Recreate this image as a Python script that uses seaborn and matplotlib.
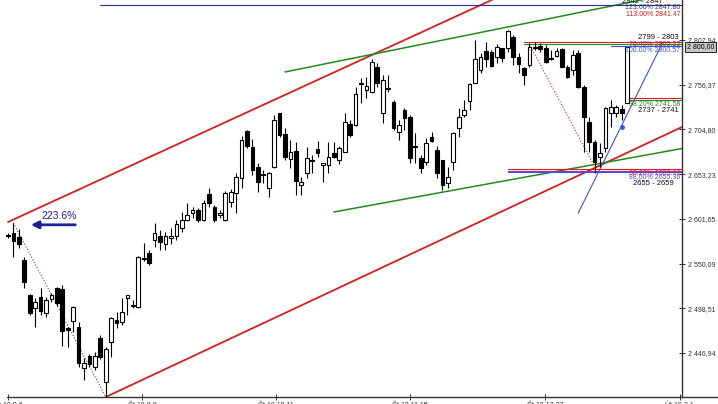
import matplotlib
matplotlib.use("Agg")
import matplotlib.pyplot as plt
import matplotlib.transforms as mtransforms
from matplotlib.lines import Line2D
import numpy as np
import pandas as pd
import seaborn as sns

# daily candles (price values)
opens = [2583.0, 2585.3, 2580.7, 2554.2, 2513.9, 2498.9, 2511.6, 2493.1, 2509.2, 2521.9,
         2520.8, 2475.8, 2483.9, 2476.9, 2429.7, 2443.5, 2430.8, 2464.3, 2413.5, 2459.6,
         2485.0, 2482.7, 2510.4, 2502.3, 2500.0, 2556.5, 2562.3, 2577.3, 2581.9, 2572.7,
         2579.6, 2581.9, 2591.1, 2600.4, 2608.4, 2611.9, 2600.4, 2630.3, 2615.3, 2606.1,
         2600.4, 2621.1, 2631.5, 2648.8, 2703.0, 2684.6, 2661.5, 2653.4, 2637.3, 2661.5,
         2723.8, 2699.5, 2670.7, 2679.9, 2640.7, 2654.6, 2669.6, 2682.2, 2663.8, 2663.8,
         2677.6, 2669.6, 2678.8, 2711.1, 2709.9, 2758.4, 2750.3, 2748.0, 2776.8, 2723.8,
         2752.6, 2736.5, 2701.9, 2727.2, 2719.2, 2685.7, 2671.9, 2667.2, 2696.1, 2681.1,
         2669.6, 2643.0, 2667.2, 2706.5, 2721.5, 2737.6, 2758.4, 2773.4, 2795.3, 2794.1,
         2788.4, 2798.7, 2798.7, 2811.4, 2788.4, 2775.7, 2779.1, 2799.9, 2801.0, 2798.7,
         2787.2, 2789.5, 2797.6, 2776.8, 2773.4, 2793.0, 2753.8, 2713.4, 2690.3, 2673.0,
         2683.4, 2723.8, 2723.8, 2728.4, 2735.3]
highs = [2585.3, 2596.9, 2589.9, 2557.7, 2515.0, 2510.4, 2521.9, 2511.6, 2516.2, 2523.1,
         2525.4, 2476.9, 2501.2, 2482.7, 2441.2, 2445.8, 2448.1, 2467.7, 2453.9, 2488.5,
         2494.2, 2510.4, 2513.9, 2508.1, 2558.8, 2573.8, 2565.8, 2596.9, 2588.8, 2586.5,
         2591.1, 2600.4, 2609.6, 2619.9, 2615.3, 2614.2, 2623.4, 2637.3, 2617.7, 2611.9,
         2633.8, 2636.1, 2654.6, 2697.2, 2704.2, 2693.8, 2666.1, 2658.0, 2655.7, 2721.5,
         2723.8, 2706.5, 2692.6, 2690.3, 2650.0, 2684.6, 2675.3, 2691.5, 2666.1, 2690.3,
         2690.3, 2685.7, 2723.8, 2715.7, 2753.8, 2764.1, 2765.3, 2786.0, 2781.4, 2767.6,
         2767.6, 2738.8, 2715.7, 2729.5, 2721.5, 2700.7, 2675.3, 2694.9, 2701.9, 2685.7,
         2669.6, 2661.5, 2701.9, 2729.5, 2738.8, 2758.4, 2808.0, 2793.0, 2805.7, 2796.4,
         2803.3, 2798.7, 2819.5, 2813.7, 2793.0, 2776.8, 2804.5, 2805.7, 2804.5, 2802.2,
         2796.4, 2798.7, 2798.7, 2779.1, 2796.4, 2796.4, 2756.1, 2719.2, 2692.6, 2689.2,
         2730.7, 2738.8, 2733.0, 2733.0, 2799.9]
lows = [2579.6, 2557.7, 2568.1, 2521.9, 2490.8, 2476.9, 2490.8, 2488.5, 2505.8, 2501.2,
        2455.0, 2453.9, 2471.2, 2430.8, 2415.8, 2430.8, 2427.3, 2440.0, 2396.2, 2442.3,
        2475.8, 2479.3, 2490.8, 2498.9, 2498.9, 2553.1, 2548.5, 2569.2, 2565.8, 2565.8,
        2572.7, 2577.3, 2586.5, 2599.2, 2602.7, 2598.0, 2599.2, 2615.3, 2598.0, 2602.7,
        2599.2, 2615.3, 2608.4, 2637.3, 2683.4, 2652.3, 2632.6, 2643.0, 2626.9, 2660.3,
        2696.1, 2669.6, 2660.3, 2629.2, 2629.2, 2648.8, 2654.6, 2673.0, 2644.2, 2654.6,
        2671.9, 2664.9, 2678.8, 2696.1, 2708.8, 2735.3, 2741.1, 2746.8, 2753.8, 2712.2,
        2748.0, 2704.2, 2692.6, 2704.2, 2666.1, 2666.1, 2654.6, 2663.8, 2690.3, 2648.8,
        2634.9, 2637.3, 2658.0, 2696.1, 2719.2, 2727.2, 2758.4, 2769.9, 2776.8, 2776.8,
        2781.4, 2782.6, 2794.1, 2779.1, 2769.9, 2756.1, 2776.8, 2796.4, 2794.1, 2781.4,
        2784.9, 2788.4, 2776.8, 2764.1, 2767.6, 2752.6, 2678.8, 2678.8, 2654.6, 2661.5,
        2678.8, 2707.6, 2719.2, 2715.7, 2735.3]
closes = [2581.9, 2576.1, 2572.7, 2528.9, 2493.1, 2505.8, 2495.4, 2508.1, 2513.9, 2504.6,
          2472.3, 2473.5, 2500.0, 2435.4, 2435.4, 2434.3, 2443.5, 2442.3, 2451.6, 2487.3,
          2481.6, 2494.2, 2513.9, 2501.2, 2557.7, 2555.4, 2550.8, 2585.3, 2574.9, 2581.9,
          2581.9, 2595.7, 2600.4, 2606.1, 2611.9, 2600.4, 2619.9, 2619.9, 2600.4, 2608.4,
          2631.5, 2632.6, 2650.0, 2692.6, 2685.7, 2658.0, 2644.2, 2652.3, 2654.6, 2715.7,
          2698.4, 2673.0, 2678.8, 2645.3, 2644.2, 2671.9, 2668.4, 2677.6, 2666.1, 2673.0,
          2673.0, 2683.4, 2713.4, 2698.4, 2745.7, 2757.2, 2754.9, 2782.6, 2758.4, 2761.8,
          2751.4, 2706.5, 2709.9, 2718.0, 2671.9, 2684.6, 2660.3, 2689.2, 2691.5, 2654.6,
          2640.7, 2650.0, 2700.7, 2719.2, 2727.2, 2757.2, 2786.0, 2788.4, 2786.0, 2778.0,
          2799.9, 2787.2, 2818.3, 2788.4, 2780.3, 2767.6, 2799.9, 2798.7, 2797.6, 2782.6,
          2786.0, 2795.3, 2776.8, 2765.3, 2790.7, 2753.8, 2719.2, 2690.3, 2667.2, 2677.6,
          2729.5, 2730.7, 2730.7, 2723.8, 2799.9]

# trend lines (bar index, price)
red_upper_x, red_upper_y = [0, 95], [2598.0, 2871.2]
red_lower_x, red_lower_y = [18, 126], [2396.2, 2713.2]
green_upper_x, green_upper_y = [51, 126], [2771.1, 2866.0]
green_lower_x, green_lower_y = [60, 126], [2609.6, 2685.0]
blue_up_x, blue_up_y = [105, 120.6], [2608.4, 2805.7]
blue_dot_x, blue_dot_y = [1, 18], [2596.9, 2396.2]
red_dot_x, red_dot_y = [96, 108], [2803.0, 2662.0]

# fibonacci levels
fib_levels = [2847.8, 2805.2, 2803.0, 2800.6, 2741.6, 2739.0, 2659.2, 2657.3, 2655.4]
fib_starts = [17, 95, 95, 111, 114, 114, 92, 92, 92]
fib_colors = ['#2b2b8f', '#d42020', '#1e8c1e', '#3f51d8', '#d42020', '#1e8c1e',
              '#d42020', '#b0309a', '#3f51d8']

fib_texts = ['123.60% 2847.80', '113.00% 2841.47', '76.40% 2805.22', '100.00% 2800.57',
             '38.20% 2741.58', '38.20% 2659.16', '88.60% 2655.36']
fib_text_y = [2844.9, 2837.6, 2803.0, 2796.4, 2733.8, 2654.2, 2649.1]
fib_text_colors = ['#3a3a6a', '#d42020', '#b02050', '#3f51d8', '#3a7a2a', '#cc2255', '#5a50c0']

zone_texts = ['2842 - 2847', '2799 - 2803', '2737 - 2741', '2655 - 2659']
zone_y = [2852.0, 2810.6, 2726.1, 2641.9]
zone_x = [116.8, 119.7, 119.7, 118.8]

ytick_vals = [2446.94, 2498.51, 2550.09, 2601.65, 2653.23, 2704.80, 2756.37, 2807.94]
xtick_pos = [0, 24.7, 49.3, 74.0, 98.9, 123.7]
xtick_labels = ['Čt 18.9.6', 'Čt 18.9.9', 'Čt 18.10.11', 'Čt 18.11.15', 'Čt 18.12.27', 'Út 19.2.1']
last_price = 2800.00

sns.set_style("white")
plt.rcParams['font.family'] = ['Liberation Sans', 'DejaVu Sans']

df = pd.DataFrame({'open': opens, 'high': highs, 'low': lows, 'close': closes})
df['idx'] = np.arange(len(df))
df['up'] = df['close'] >= df['open']
df['bottom'] = df[['open', 'close']].min(axis=1)
df['body'] = (df['close'] - df['open']).abs().clip(lower=0.9)

fig = plt.figure(figsize=(7.18, 4.04), dpi=100)
ax = fig.add_axes([0, 7 / 404, 682 / 718, 397 / 404])
ax.set_xlim(-1.47, 124.1)
ax.set_ylim(2396.2, 2854.1)


def tline(xs, ys, color, lw, ls='-'):
    sns.lineplot(x=xs, y=ys, ax=ax, color=color, lw=lw, linestyle=ls,
                 estimator=None, sort=False, legend=False, zorder=2)


tline(red_upper_x, red_upper_y, '#d42020', 1.3)
tline(red_lower_x, red_lower_y, '#d42020', 1.3)
tline(green_upper_x, green_upper_y, '#1e8c1e', 1.1)
tline(green_lower_x, green_lower_y, '#1e8c1e', 1.1)
tline(blue_up_x, blue_up_y, '#3f51d8', 0.8)
tline(blue_dot_x, blue_dot_y, '#3a4a9a', 0.8, ':')
tline(red_dot_x, red_dot_y, '#d42020', 0.8, ':')

for lvl, st, col in zip(fib_levels, fib_starts, fib_colors):
    ax.plot([st, 124.1], [lvl, lvl], color=col, lw=0.8, zorder=2)

# candles
ax.vlines(df['idx'], df['low'], df['high'], color='black', lw=0.8, zorder=3)
ax.bar(df['idx'], df['body'], bottom=df['bottom'], width=0.68,
       color=np.where(df['up'], 'white', 'black'), edgecolor='black', lw=0.8, zorder=4)

ax.plot([113.1], [2707.6], 'o', color='#3f51d8', ms=2.5, zorder=5)

# labels at levels
for t, y, c in zip(fib_texts, fib_text_y, fib_text_colors):
    ax.text(123.8, y, t, ha='right', va='center', fontsize=5, color=c, zorder=6)
for t, x, y in zip(zone_texts, zone_x, zone_y):
    ax.text(x, y, t, ha='center', va='center', fontsize=5.5, color='#111111', zorder=6)

ax.annotate('', xy=(3.7, 2594.8), xytext=(12.9, 2594.8),
            arrowprops=dict(arrowstyle='-|>', color='#1f1f99', lw=2.0, mutation_scale=11))
ax.text(9.4, 2605.5, '223.6%', ha='center', va='center', fontsize=7.5, color='#1f1f99')

# axes styling
for s in ['top', 'left', 'bottom']:
    ax.spines[s].set_visible(False)
ax.spines['right'].set_color('#333333')
ax.spines['right'].set_linewidth(1.0)
ax.yaxis.tick_right()
ax.set_yticks(ytick_vals)
ax.set_yticklabels([f"{v:,.2f}".replace(',', ' ').replace('.', ',') for v in ytick_vals])
ax.tick_params(axis='y', direction='inout', length=5, width=0.7, labelsize=5,
               pad=1.5, colors='#333333', right=True, left=False)
ax.set_xticks(xtick_pos)
ax.set_xticklabels(xtick_labels)
ax.tick_params(axis='x', direction='inout', length=5, width=0.7, labelsize=5,
               pad=1.2, colors='#333333', bottom=True)
ax.grid(False)

fig.add_artist(Line2D([7 / 718, 1.0], [7 / 404, 7 / 404], color='#333333', lw=1.0))

trans = mtransforms.blended_transform_factory(ax.transAxes, ax.transData)
ax.text(1.007, last_price, f"{last_price:,.2f}".replace(',', ' ').replace('.', ','),
        transform=trans, ha='left', va='center', fontsize=5, color='black', clip_on=False,
        bbox=dict(boxstyle='square,pad=0.25', facecolor='#c8c8c8', edgecolor='black', lw=0.6))

fig.savefig('out.png', dpi=100)
